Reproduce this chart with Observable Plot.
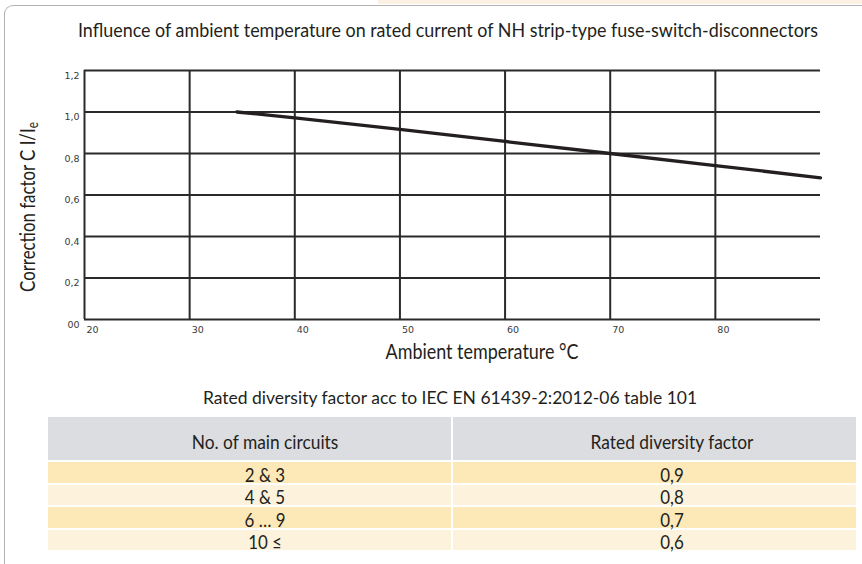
<!DOCTYPE html>
<html>
<head>
<meta charset="utf-8">
<script src="https://cdn.jsdelivr.net/npm/d3@7"></script>
<script src="https://cdn.jsdelivr.net/npm/@observablehq/plot@0.6"></script>
<style>
  html, body { margin: 0; padding: 0; background: #fff; }
  #root { position: relative; width: 862px; height: 564px; overflow: hidden; background: #fff; }
  .lbl { position: absolute; white-space: nowrap; line-height: 1; color: #231f20;
         font-family: Lato, "Open Sans", sans-serif; }
  .box { position: absolute; }
  svg { position: absolute; left: 0; top: 0; overflow: visible; }
</style>
</head>
<body>
<div id="root"></div>
<script>
// ---- data ----
const temperature = [34.5, 40, 50, 60, 70, 80, 90];
const correction  = [1.0, 0.972, 0.916, 0.858, 0.80, 0.742, 0.683];
const xTicks = [20, 30, 40, 50, 60, 70, 80];
const yTicks = [0, 0.2, 0.4, 0.6, 0.8, 1.0, 1.2];
const yTickLabels = ["00", "0,2", "0,4", "0,6", "0,8", "1,0", "1,2"];
const tableHeaders = ["No. of main circuits", "Rated diversity factor"];
const circuits = ["2 & 3", "4 & 5", "6 … 9", "10 ≤"];
const diversity = ["0,9", "0,8", "0,7", "0,6"];

const titleText = "Influence of ambient temperature on rated current of NH strip-type fuse-switch-disconnectors";
const xLabel = "Ambient temperature °C";
const tableTitle = "Rated diversity factor acc to IEC EN 61439-2:2012-06 table 101";

const root = document.getElementById("root");

// decorative frame
function box(l, t, w, h, style) {
  const d = document.createElement("div");
  d.className = "box";
  Object.assign(d.style, {left: l + "px", top: t + "px", width: w + "px", height: h + "px"}, style || {});
  root.appendChild(d);
  return d;
}
box(378, 0, 484, 4, {background: "#fdf1e6"});
box(4, 5, 900, 620, {borderLeft: "1.5px solid #b3b3b3", borderTop: "1.5px solid #b3b3b3", borderTopLeftRadius: "9px"});

// chart
const curve = temperature.map((t, i) => ({t, c: correction[i]}));
const ink = "#2a2a2a";
const chart = Plot.plot({
  width: 862,
  height: 370,
  marginLeft: 84,
  marginRight: 42,
  marginTop: 70,
  marginBottom: 51,
  style: {background: "transparent", overflow: "visible"},
  x: {domain: [20, 90], axis: null},
  y: {domain: [0, 1.2], axis: null},
  marks: [
    Plot.ruleY(yTicks, {stroke: ink, strokeWidth: 2}),
    Plot.ruleX(xTicks, {stroke: ink, strokeWidth: 2}),
    Plot.line(curve, {x: "t", y: "c", stroke: "#231f20", strokeWidth: 3.3}),
    Plot.text(yTicks, {y: d => d, frameAnchor: "left", text: (d, i) => yTickLabels[i],
      textAnchor: "end", dx: -5, dy: 5, fontSize: 9.5, fill: "#3a3a3a",
      fontFamily: "DejaVu Sans, sans-serif"}),
    Plot.text(xTicks, {x: d => d, frameAnchor: "bottom", text: d => String(d),
      textAnchor: "start", dx: 2, dy: 13, fontSize: 9.5, fill: "#3a3a3a",
      fontFamily: "DejaVu Sans, sans-serif"})
  ]
});
root.appendChild(chart);

// text helper: centered at (cx, cy), squeezed horizontally to width w
function label(html, cx, cy, fontSize, w, rotate, scaleOverride) {
  const d = document.createElement("div");
  d.className = "lbl";
  d.innerHTML = html;
  d.style.fontSize = fontSize + "px";
  d.style.left = cx + "px";
  d.style.top = cy + "px";
  root.appendChild(d);
  const s = scaleOverride || (w ? w / d.offsetWidth : 1);
  d.style.transform = `translate(-50%,-50%) rotate(${rotate || 0}deg) scaleX(${s})`;
  return s;
}

label(titleText, 448, 30, 18.5, 740);
label(xLabel, 481.5, 350, 21, 193);
label("Correction factor C I/I<sub style='font-size:0.7em;vertical-align:-0.25em'>e</sub>", 28, 207, 21, 170, -90);
label(tableTitle, 450, 397, 17, 494);

// table
const colX = [[48, 451], [453, 856]];
const colText = [265, 672];
const rowsY = [[462, 483], [485, 505], [507, 528], [530, 550]];
const rowFill = ["#fde8b8", "#fdf2dc", "#fde8b8", "#fdf2dc"];
colX.forEach(([a, b]) => box(a, 417, b - a, 43, {background: "#dcdde0"}));
const s = label(tableHeaders[1], colText[1], 441, 20, 163);
label(tableHeaders[0], colText[0], 441, 20, null, 0, s);
rowsY.forEach(([t, b], i) => {
  colX.forEach(([a, e]) => box(a, t, e - a, b - t, {background: rowFill[i]}));
  label(circuits[i], colText[0], (t + b) / 2 + 2, 19.5, null, 0, s);
  label(diversity[i], colText[1], (t + b) / 2 + 2, 19.5, null, 0, s);
});
</script>
</body>
</html>
